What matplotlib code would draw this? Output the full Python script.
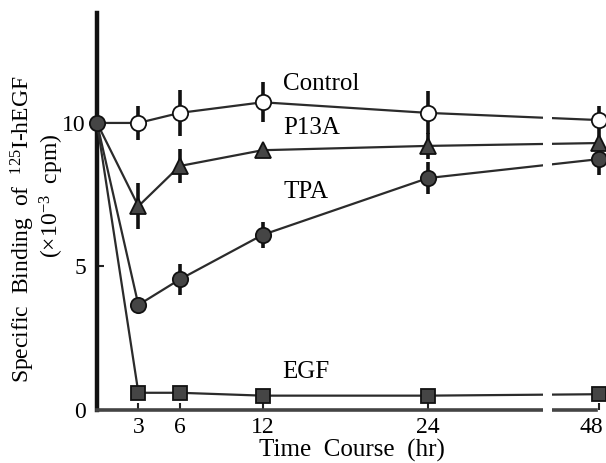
import numpy as np
import matplotlib
matplotlib.use("Agg")
import matplotlib.pyplot as plt
from matplotlib.patches import Rectangle
from matplotlib.transforms import ScaledTranslation

plt.rcParams['font.family'] = ['Liberation Serif', 'DejaVu Serif']
plt.rcParams['mathtext.fontset'] = 'custom'
plt.rcParams['mathtext.rm'] = 'Liberation Serif'
plt.rcParams['mathtext.it'] = 'Liberation Serif:italic'
plt.rcParams['mathtext.bf'] = 'Liberation Serif:bold'

# ---- data ----
hours = [0, 3, 6, 12, 24, 48]
control = [10.0, 10.0, 10.35, 10.72, 10.35, 10.1]
control_err = [0.0, 0.6, 0.8, 0.7, 0.75, 0.5]
p13a = [10.0, 7.1, 8.5, 9.05, 9.2, 9.3]
p13a_err = [0.0, 0.8, 0.6, 0.0, 0.45, 0.3]
tpa = [10.0, 3.66, 4.55, 6.1, 8.08, 8.74]
tpa_err = [0.0, 0.2, 0.55, 0.45, 0.55, 0.55]
egf = [10.0, 0.6, 0.6, 0.5, 0.5, 0.55]
egf_err = [0.0, 0.0, 0.0, 0.0, 0.0, 0.0]
xtick_values = [3, 6, 12, 24, 48]
ytick_values = [0, 5, 10]
series_names = ["Control", "P13A", "TPA", "EGF"]

# broken time axis: 24 -> 48 compressed
def fwd(x):
    x = np.asarray(x, dtype=float)
    return np.where(x <= 24, x, 24 + (x - 24) * (12.4 / 24))

def inv(y):
    y = np.asarray(y, dtype=float)
    return np.where(y <= 24, y, 24 + (y - 24) * (24 / 12.4))

fig = plt.figure(figsize=(6.06, 4.63), dpi=100)
ax = fig.add_axes([97/606, 1 - 410/463, 1 - 97/606, (410 - 13)/463])
ax.set_xscale('function', functions=(fwd, inv))
ax.set_xlim(0, inv(36.9))
ax.set_ylim(0, 13.83)

lc = '#2b2b2b'
fill = '#454545'
specs = [
    (control, control_err, 'o', 'white', 11),
    (p13a, p13a_err, '^', fill, 11),
    (tpa, tpa_err, 'o', fill, 11),
    (egf, egf_err, 's', fill, 10),
]
for vals, errs, mk, fc, ms in specs:
    ax.plot(hours, vals, color=lc, lw=1.6, zorder=3, clip_on=False)
    e = np.array(errs)
    m = e > 0
    ax.errorbar(np.array(hours)[m], np.array(vals)[m], yerr=e[m], fmt='none',
                ecolor='#111111', elinewidth=2.6, capsize=0, zorder=4, clip_on=False)
    ax.plot(hours[1:], vals[1:], ls='none', marker=mk, ms=ms, mfc=fc, mec='#111111',
            mew=1.3, zorder=5, clip_on=False)
ax.plot([0], [10], ls='none', marker='o', ms=11, mfc=fill, mec='#111111', mew=1.3,
        zorder=6, clip_on=False)

# spines
for s in ['top', 'right']:
    ax.spines[s].set_visible(False)
ax.spines['left'].set_linewidth(3.2)
ax.spines['left'].set_color('#111111')
ax.spines['bottom'].set_linewidth(2.6)
ax.spines['bottom'].set_color('#444444')
ax.spines['bottom'].set_bounds(0, inv(36.2))

# axis break gap
gx0, gx1 = inv(32.3), inv(32.95)
ax.add_patch(Rectangle((gx0, -0.4), gx1 - gx0, 12.0, facecolor='white',
                       edgecolor='none', zorder=20, clip_on=False))

ax.set_xticks(xtick_values)
ax.set_xticklabels([str(v) for v in xtick_values])
ax.set_yticks(ytick_values)
ax.tick_params(axis='both', direction='in', length=5, width=1.5, color='#222222',
               labelsize=17, pad=5)
ax.tick_params(axis='y', pad=8)
last = ax.get_xticklabels()[-1]
last.set_transform(last.get_transform() + ScaledTranslation(-8/100, 0, fig.dpi_scale_trans))

ax.set_xlabel('Time  Course  (hr)', fontsize=18, labelpad=0.5)

fig.text(23/606, 1 - 229/463, r'Specific  Binding  of  $^{125}$I-hEGF', rotation=90,
         ha='center', va='center', fontsize=17)
fig.text(52/606, 1 - 196/463, r'($\times$10$^{-3}$  cpm)', rotation=90,
         ha='center', va='center', fontsize=17)

label_pos = [(283, 84), (283, 128), (283, 192), (282, 372)]
for name, (px, py) in zip(series_names, label_pos):
    fig.text(px/606, 1 - py/463, name, ha='left', va='center', fontsize=18)

fig.savefig('out.png', dpi=100)
